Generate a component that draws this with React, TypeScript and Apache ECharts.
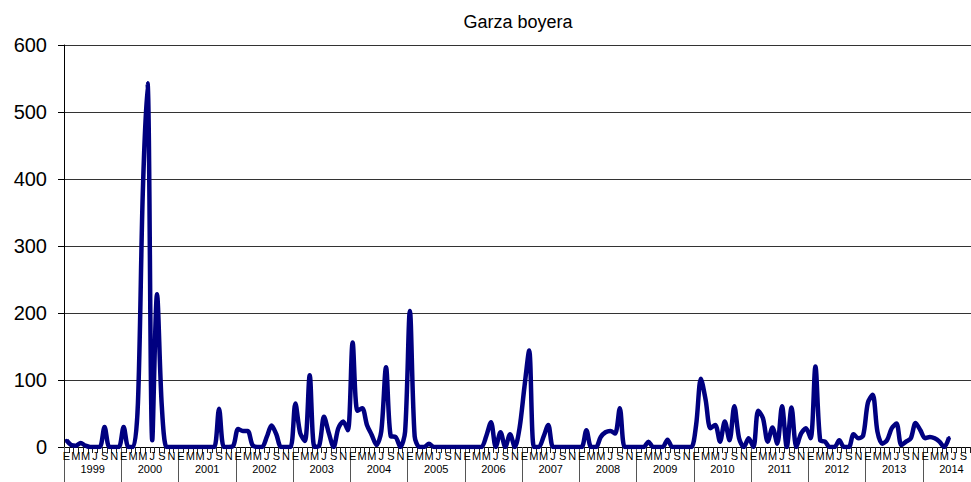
import React, { useEffect, useRef } from "react";
import * as echarts from "echarts";

const years = ["1999","2000","2001","2002","2003","2004","2005","2006","2007","2008","2009","2010","2011","2012","2013","2014"];
const monthInitials = ["E","F","M","A","M","J","J","A","S","O","N","D"];

const v1999 = [10, 3, 2, 6, 2, 0, 0, 0, 30, 0, 0, 0];
const v2000 = [30, 0, 0, 66, 376, 543, 10, 228, 61, 0, 0, 0];
const v2001 = [0, 0, 0, 0, 0, 0, 0, 0, 57, 0, 0, 2];
const v2002 = [27, 24, 24, 3, 0, 0, 15, 32, 19, 0, 0, 0];
const v2003 = [65, 21, 9, 107, 0, 2, 45, 21, 0, 28, 38, 25];
const v2004 = [156, 54, 58, 33, 18, 3, 23, 119, 16, 15, 0, 23];
const v2005 = [203, 16, 0, 0, 5, 0, 0, 0, 0, 0, 0, 0];
const v2006 = [0, 0, 0, 0, 16, 37, 0, 22, 0, 19, 0, 29];
const v2007 = [89, 144, 0, 0, 15, 33, 0, 0, 0, 0, 0, 0];
const v2008 = [0, 25, 0, 0, 15, 22, 24, 20, 58, 0, 0, 0];
const v2009 = [0, 0, 8, 0, 0, 0, 11, 0, 0, 0, 0, 0];
const v2010 = [33, 102, 70, 28, 33, 8, 38, 10, 61, 13, 0, 13];
const v2011 = [0, 54, 43, 8, 29, 5, 61, 0, 59, 0, 20, 28];
const v2012 = [13, 120, 10, 8, 0, 0, 10, 0, 0, 19, 13, 17];
const v2013 = [66, 78, 23, 5, 10, 28, 35, 3, 8, 13, 36, 25];
const v2014 = [13, 15, 13, 8, 0, 14, null, null, null, null, null, null];

const yTicks = { min: 0, max: 600, interval: 100 };

export default function App() {
  const ref = useRef<HTMLDivElement>(null);
  useEffect(() => {
    if (!ref.current) return;
    const chart = echarts.init(ref.current, null, { renderer: "svg" });
    const months: string[] = [];
    years.forEach(() => monthInitials.forEach((m) => months.push(m)));
    const values = [
      ...v1999, ...v2000, ...v2001, ...v2002, ...v2003, ...v2004, ...v2005, ...v2006,
      ...v2007, ...v2008, ...v2009, ...v2010, ...v2011, ...v2012, ...v2013, ...v2014,
    ];
    const font = "'Liberation Sans', Arial, sans-serif";
    chart.setOption({
      animation: false,
      backgroundColor: "#ffffff",
      title: {
        text: "Garza boyera",
        left: 513,
        textAlign: "center",
        top: 8,
        textStyle: { fontSize: 18, fontWeight: "normal", color: "#000", fontFamily: font },
      },
      grid: { left: 64, top: 45, right: 0, bottom: 35, containLabel: false },
      xAxis: [
        {
          type: "category",
          data: months.map((m, i) => i),
          boundaryGap: true,
          position: "bottom",
          offset: 0,
          axisLine: { show: true, lineStyle: { color: "#000", width: 1 } },
          axisTick: { show: true, interval: 0, length: 6, lineStyle: { color: "#222" } },
          axisLabel: {
            interval: 1,
            fontSize: 11,
            color: "#000",
            fontFamily: font,
            margin: 3,
            formatter: (v: string) => (Number(v) >= months.length - 2 ? "" : months[Number(v)]),
          },
          splitLine: { show: false },
        },
        {
          type: "category",
          data: years,
          boundaryGap: true,
          position: "bottom",
          offset: 0,
          axisLine: { show: false },
          axisTick: { show: true, interval: 0, length: 36, lineStyle: { color: "#555" } },
          axisLabel: { interval: 0, fontSize: 11, color: "#000", fontFamily: font, margin: 16 },
          splitLine: { show: false },
        },
      ],
      yAxis: {
        type: "value",
        min: yTicks.min,
        max: yTicks.max,
        interval: yTicks.interval,
        axisLine: { show: true, lineStyle: { color: "#000" } },
        axisTick: { show: true, length: 6, lineStyle: { color: "#000" } },
        axisLabel: { fontSize: 20, color: "#000", fontFamily: font, margin: 17 },
        splitLine: { show: true, lineStyle: { color: "#333", width: 1 } },
      },
      series: [
        {
          type: "line",
          xAxisIndex: 0,
          data: values,
          smooth: 0.3,
          symbol: "circle",
          symbolSize: 3,
          showSymbol: true,
          connectNulls: false,
          lineStyle: { color: "#000080", width: 4.5 },
          itemStyle: { color: "#000080" },
        },
      ],
    });
    return () => chart.dispose();
  }, []);
  return (
    <div style={{ position: "fixed", left: 0, top: 0, width: 971, height: 482, overflow: "hidden" }}>
      <div ref={ref} style={{ width: 980, height: 482 }} />
    </div>
  );
}
